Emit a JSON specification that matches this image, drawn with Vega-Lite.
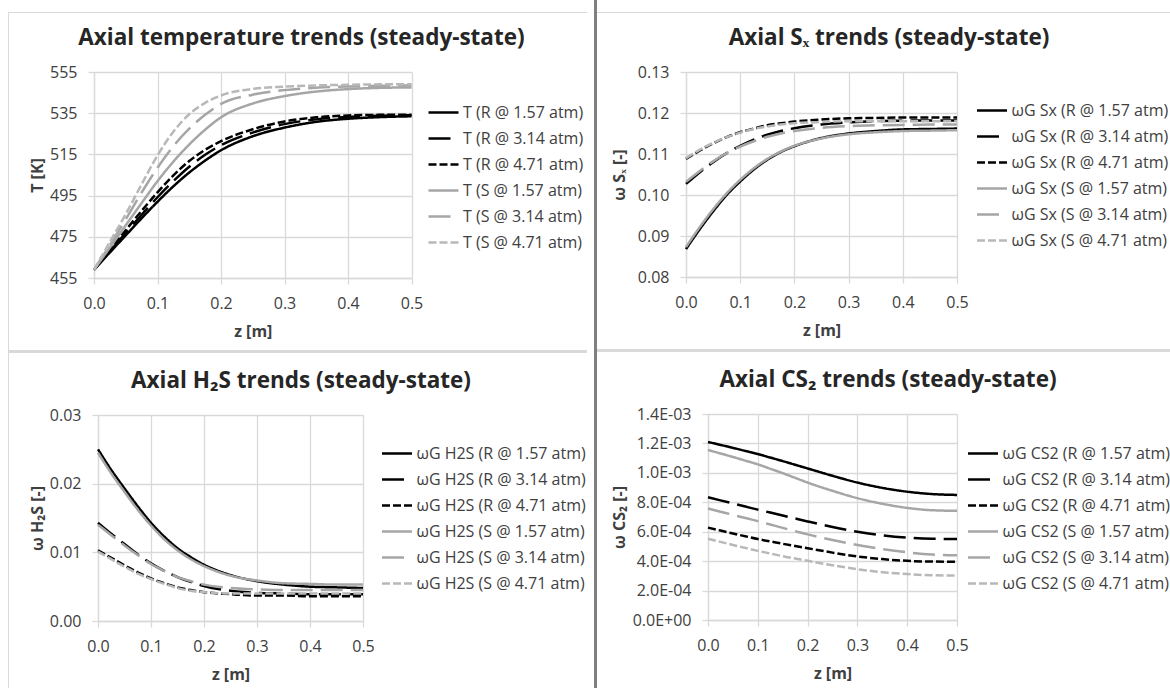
{
"$schema": "https://vega.github.io/schema/vega-lite/v6.json",
"padding": {"left": 8, "top": 0, "right": 0, "bottom": 0},
"background": "white",
"config": {
 "font": "Open Sans",
 "view": {"stroke": null},
 "axis": {"gridColor": "#d9d9d9", "gridWidth": 1.3, "domainColor": "#d9d9d9", "domainWidth": 1.3, "tickColor": "#d9d9d9", "tickWidth": 1.3, "tickSize": 6, "labelPadding": 11, "labelFont": "Open Sans", "labelFontSize": 16, "labelColor": "#404040", "labelOverlap": false, "titleFont": "Open Sans", "titleFontSize": 16, "titleFontWeight": "bold", "titleColor": "#404040"},
 "axisX": {"labelFlush": false, "titlePadding": 12},
 "title": {"font": "Open Sans", "fontSize": 22.5, "fontWeight": "bold", "color": "#262626", "anchor": "middle", "offset": 14.5},
 "legend": {"labelFont": "Open Sans", "labelFontSize": 16, "labelColor": "#404040"},
 "concat": {"spacing": 0}
},
"data": {"values": [
{"s":"R @ 1.57 atm","z":0,"T":459,"Sx":0.0868,"H2S":0.025,"CS2":0.00121},
{"s":"R @ 1.57 atm","z":0.025,"T":467.4,"Sx":0.0916,"H2S":0.022,"CS2":0.00119},
{"s":"R @ 1.57 atm","z":0.05,"T":475.7,"Sx":0.096,"H2S":0.0193,"CS2":0.00117},
{"s":"R @ 1.57 atm","z":0.075,"T":484,"Sx":0.1,"H2S":0.0167,"CS2":0.001149},
{"s":"R @ 1.57 atm","z":0.1,"T":492,"Sx":0.1033,"H2S":0.0143,"CS2":0.001128},
{"s":"R @ 1.57 atm","z":0.125,"T":499.5,"Sx":0.1062,"H2S":0.0123,"CS2":0.001104},
{"s":"R @ 1.57 atm","z":0.15,"T":506.2,"Sx":0.1086,"H2S":0.0106,"CS2":0.00108},
{"s":"R @ 1.57 atm","z":0.175,"T":512,"Sx":0.1105,"H2S":0.0093,"CS2":0.001055},
{"s":"R @ 1.57 atm","z":0.2,"T":517,"Sx":0.1119,"H2S":0.0082,"CS2":0.00103},
{"s":"R @ 1.57 atm","z":0.25,"T":523.8,"Sx":0.1139,"H2S":0.0067,"CS2":0.00098},
{"s":"R @ 1.57 atm","z":0.3,"T":528,"Sx":0.115,"H2S":0.0058,"CS2":0.000934},
{"s":"R @ 1.57 atm","z":0.35,"T":530.8,"Sx":0.1156,"H2S":0.0053,"CS2":0.000898},
{"s":"R @ 1.57 atm","z":0.4,"T":532.3,"Sx":0.116,"H2S":0.005,"CS2":0.000872},
{"s":"R @ 1.57 atm","z":0.45,"T":533.1,"Sx":0.1161,"H2S":0.0049,"CS2":0.000856},
{"s":"R @ 1.57 atm","z":0.5,"T":533.5,"Sx":0.1162,"H2S":0.0048,"CS2":0.00085},
{"s":"R @ 3.14 atm","z":0,"T":459,"Sx":0.1027,"H2S":0.0143,"CS2":0.000834},
{"s":"R @ 3.14 atm","z":0.025,"T":468,"Sx":0.1055,"H2S":0.0127,"CS2":0.000813},
{"s":"R @ 3.14 atm","z":0.05,"T":476.9,"Sx":0.108,"H2S":0.0112,"CS2":0.000792},
{"s":"R @ 3.14 atm","z":0.075,"T":485.7,"Sx":0.1102,"H2S":0.0097,"CS2":0.000771},
{"s":"R @ 3.14 atm","z":0.1,"T":494.2,"Sx":0.112,"H2S":0.0084,"CS2":0.00075},
{"s":"R @ 3.14 atm","z":0.125,"T":502,"Sx":0.1135,"H2S":0.0073,"CS2":0.00073},
{"s":"R @ 3.14 atm","z":0.15,"T":509,"Sx":0.1147,"H2S":0.0064,"CS2":0.00071},
{"s":"R @ 3.14 atm","z":0.175,"T":514.8,"Sx":0.1156,"H2S":0.0057,"CS2":0.00069},
{"s":"R @ 3.14 atm","z":0.2,"T":519.5,"Sx":0.1163,"H2S":0.0051,"CS2":0.00067},
{"s":"R @ 3.14 atm","z":0.25,"T":525.6,"Sx":0.1172,"H2S":0.0044,"CS2":0.000632},
{"s":"R @ 3.14 atm","z":0.3,"T":529.7,"Sx":0.1177,"H2S":0.0041,"CS2":0.0006},
{"s":"R @ 3.14 atm","z":0.35,"T":532,"Sx":0.118,"H2S":0.004,"CS2":0.000576},
{"s":"R @ 3.14 atm","z":0.4,"T":533.2,"Sx":0.1181,"H2S":0.0039,"CS2":0.00056},
{"s":"R @ 3.14 atm","z":0.45,"T":533.8,"Sx":0.1182,"H2S":0.0039,"CS2":0.000552},
{"s":"R @ 3.14 atm","z":0.5,"T":534,"Sx":0.1182,"H2S":0.0039,"CS2":0.00055},
{"s":"R @ 4.71 atm","z":0,"T":459,"Sx":0.1088,"H2S":0.0103,"CS2":0.000628},
{"s":"R @ 4.71 atm","z":0.025,"T":468.6,"Sx":0.1108,"H2S":0.0092,"CS2":0.000608},
{"s":"R @ 4.71 atm","z":0.05,"T":478.2,"Sx":0.1126,"H2S":0.0081,"CS2":0.000588},
{"s":"R @ 4.71 atm","z":0.075,"T":487.6,"Sx":0.1141,"H2S":0.0071,"CS2":0.000569},
{"s":"R @ 4.71 atm","z":0.1,"T":496.6,"Sx":0.1153,"H2S":0.0062,"CS2":0.00055},
{"s":"R @ 4.71 atm","z":0.125,"T":504.8,"Sx":0.1162,"H2S":0.0055,"CS2":0.000534},
{"s":"R @ 4.71 atm","z":0.15,"T":511.8,"Sx":0.117,"H2S":0.0049,"CS2":0.000518},
{"s":"R @ 4.71 atm","z":0.175,"T":517.2,"Sx":0.1175,"H2S":0.0045,"CS2":0.000503},
{"s":"R @ 4.71 atm","z":0.2,"T":521.4,"Sx":0.1179,"H2S":0.0042,"CS2":0.000488},
{"s":"R @ 4.71 atm","z":0.25,"T":527.2,"Sx":0.1184,"H2S":0.0039,"CS2":0.000458},
{"s":"R @ 4.71 atm","z":0.3,"T":531,"Sx":0.1187,"H2S":0.0037,"CS2":0.000432},
{"s":"R @ 4.71 atm","z":0.35,"T":533,"Sx":0.1188,"H2S":0.0037,"CS2":0.000414},
{"s":"R @ 4.71 atm","z":0.4,"T":533.9,"Sx":0.1189,"H2S":0.0036,"CS2":0.000402},
{"s":"R @ 4.71 atm","z":0.45,"T":534.2,"Sx":0.1189,"H2S":0.0036,"CS2":0.000397},
{"s":"R @ 4.71 atm","z":0.5,"T":534.3,"Sx":0.1189,"H2S":0.0036,"CS2":0.000396},
{"s":"S @ 1.57 atm","z":0,"T":459,"Sx":0.0873,"H2S":0.0245,"CS2":0.001155},
{"s":"S @ 1.57 atm","z":0.025,"T":469.8,"Sx":0.0921,"H2S":0.0215,"CS2":0.001132},
{"s":"S @ 1.57 atm","z":0.05,"T":480.6,"Sx":0.0965,"H2S":0.0188,"CS2":0.001108},
{"s":"S @ 1.57 atm","z":0.075,"T":491.4,"Sx":0.1004,"H2S":0.0162,"CS2":0.001083},
{"s":"S @ 1.57 atm","z":0.1,"T":502,"Sx":0.1037,"H2S":0.0139,"CS2":0.001058},
{"s":"S @ 1.57 atm","z":0.125,"T":511.5,"Sx":0.1065,"H2S":0.0119,"CS2":0.001028},
{"s":"S @ 1.57 atm","z":0.15,"T":519.8,"Sx":0.1088,"H2S":0.0103,"CS2":0.000998},
{"s":"S @ 1.57 atm","z":0.175,"T":527,"Sx":0.1106,"H2S":0.009,"CS2":0.000966},
{"s":"S @ 1.57 atm","z":0.2,"T":533,"Sx":0.112,"H2S":0.008,"CS2":0.000934},
{"s":"S @ 1.57 atm","z":0.25,"T":539.7,"Sx":0.1138,"H2S":0.0066,"CS2":0.000878},
{"s":"S @ 1.57 atm","z":0.3,"T":543.3,"Sx":0.1148,"H2S":0.0059,"CS2":0.000828},
{"s":"S @ 1.57 atm","z":0.35,"T":545.5,"Sx":0.1153,"H2S":0.0055,"CS2":0.00079},
{"s":"S @ 1.57 atm","z":0.4,"T":546.7,"Sx":0.1156,"H2S":0.0054,"CS2":0.000762},
{"s":"S @ 1.57 atm","z":0.45,"T":547.3,"Sx":0.1157,"H2S":0.0053,"CS2":0.000746},
{"s":"S @ 1.57 atm","z":0.5,"T":547.5,"Sx":0.1158,"H2S":0.0053,"CS2":0.000742},
{"s":"S @ 3.14 atm","z":0,"T":459,"Sx":0.1032,"H2S":0.014,"CS2":0.000758},
{"s":"S @ 3.14 atm","z":0.025,"T":471,"Sx":0.1058,"H2S":0.0125,"CS2":0.000736},
{"s":"S @ 3.14 atm","z":0.05,"T":483.5,"Sx":0.1082,"H2S":0.011,"CS2":0.000715},
{"s":"S @ 3.14 atm","z":0.075,"T":496.5,"Sx":0.1102,"H2S":0.0096,"CS2":0.000693},
{"s":"S @ 3.14 atm","z":0.1,"T":508.5,"Sx":0.1118,"H2S":0.0083,"CS2":0.000672},
{"s":"S @ 3.14 atm","z":0.125,"T":519,"Sx":0.1131,"H2S":0.0073,"CS2":0.000649},
{"s":"S @ 3.14 atm","z":0.15,"T":527.5,"Sx":0.1142,"H2S":0.0064,"CS2":0.000626},
{"s":"S @ 3.14 atm","z":0.175,"T":534.2,"Sx":0.115,"H2S":0.0058,"CS2":0.000604},
{"s":"S @ 3.14 atm","z":0.2,"T":539.5,"Sx":0.1156,"H2S":0.0053,"CS2":0.000582},
{"s":"S @ 3.14 atm","z":0.25,"T":544,"Sx":0.1164,"H2S":0.0048,"CS2":0.000544},
{"s":"S @ 3.14 atm","z":0.3,"T":546.2,"Sx":0.1168,"H2S":0.0046,"CS2":0.00051},
{"s":"S @ 3.14 atm","z":0.35,"T":547.4,"Sx":0.117,"H2S":0.0045,"CS2":0.000482},
{"s":"S @ 3.14 atm","z":0.4,"T":548,"Sx":0.1171,"H2S":0.0045,"CS2":0.00046},
{"s":"S @ 3.14 atm","z":0.45,"T":548.3,"Sx":0.1172,"H2S":0.0045,"CS2":0.000445},
{"s":"S @ 3.14 atm","z":0.5,"T":548.5,"Sx":0.1172,"H2S":0.0045,"CS2":0.00044},
{"s":"S @ 4.71 atm","z":0,"T":459,"Sx":0.109,"H2S":0.0101,"CS2":0.000552},
{"s":"S @ 4.71 atm","z":0.025,"T":472.5,"Sx":0.111,"H2S":0.009,"CS2":0.000531},
{"s":"S @ 4.71 atm","z":0.05,"T":486,"Sx":0.1127,"H2S":0.0079,"CS2":0.00051},
{"s":"S @ 4.71 atm","z":0.075,"T":500.5,"Sx":0.1141,"H2S":0.0069,"CS2":0.00049},
{"s":"S @ 4.71 atm","z":0.1,"T":514.5,"Sx":0.1152,"H2S":0.0061,"CS2":0.00047},
{"s":"S @ 4.71 atm","z":0.125,"T":526,"Sx":0.1161,"H2S":0.0054,"CS2":0.000452},
{"s":"S @ 4.71 atm","z":0.15,"T":534.5,"Sx":0.1167,"H2S":0.0048,"CS2":0.000434},
{"s":"S @ 4.71 atm","z":0.175,"T":540,"Sx":0.1172,"H2S":0.0044,"CS2":0.000418},
{"s":"S @ 4.71 atm","z":0.2,"T":543.6,"Sx":0.1175,"H2S":0.0042,"CS2":0.000402},
{"s":"S @ 4.71 atm","z":0.25,"T":546.8,"Sx":0.1178,"H2S":0.004,"CS2":0.000372},
{"s":"S @ 4.71 atm","z":0.3,"T":547.9,"Sx":0.118,"H2S":0.004,"CS2":0.000345},
{"s":"S @ 4.71 atm","z":0.35,"T":548.5,"Sx":0.118,"H2S":0.004,"CS2":0.000325},
{"s":"S @ 4.71 atm","z":0.4,"T":548.8,"Sx":0.118,"H2S":0.004,"CS2":0.000312},
{"s":"S @ 4.71 atm","z":0.45,"T":549,"Sx":0.118,"H2S":0.004,"CS2":0.000304},
{"s":"S @ 4.71 atm","z":0.5,"T":549.1,"Sx":0.118,"H2S":0.004,"CS2":0.000302}
]},
"resolve": {"scale": {"x": "independent", "y": "independent", "color": "independent", "strokeDash": "independent"}, "axis": {"x": "independent", "y": "independent"}, "legend": {"color": "independent", "strokeDash": "independent"}},
"spacing": 7,
"align": "none",
"concat": [
 {
  "concat": [
   {
    "concat": [
     {"width": 1, "height": 1, "data": {"values": [{}]}, "mark": {"type": "point", "size": 0, "opacity": 0}, "encoding": {}},
     {"width": 1, "height": 676, "data": {"values": [{}]}, "mark": {"type": "point", "size": 0, "opacity": 0}, "encoding": {}, "view": {"fill": "#d9d9d9", "stroke": null}}
    ],
    "columns": 1, "align": "none", "spacing": 11,
    "resolve": {"scale": {"x": "independent", "y": "independent"}, "axis": {"x": "independent", "y": "independent"}}
   },
   {
    "concat": [
     {
      "concat": [
       {
        "concat": [
         {"width": 1, "height": 1, "data": {"values": [{}]}, "mark": {"type": "point", "size": 0, "opacity": 0}, "encoding": {}},
         {"width": 578, "height": 1, "data": {"values": [{}]}, "mark": {"type": "point", "size": 0, "opacity": 0}, "encoding": {}, "view": {"fill": "#d9d9d9", "stroke": null}}
        ],
        "columns": 1, "align": "none", "spacing": 11,
        "resolve": {"scale": {"x": "independent", "y": "independent"}, "axis": {"x": "independent", "y": "independent"}}
       },
       {
        "concat": [
         {
          "concat": [
           {"width": 1, "height": 1, "data": {"values": [{}]}, "mark": {"type": "point", "size": 0, "opacity": 0}, "encoding": {}},
           {
            "width": 317.5, "height": 206,
            "title": {"text": "Axial temperature trends (steady-state)", "dx": 48.7},
            "mark": {"type": "line", "interpolate": "monotone", "strokeWidth": 2.5},
            "encoding": {
             "x": {"field": "z", "type": "quantitative", "title": "z [m]", "scale": {"domain": [0, 0.5], "nice": false}, "axis": {"values": [0, 0.1, 0.2, 0.3, 0.4, 0.5], "format": ".1f"}},
             "y": {"field": "T", "type": "quantitative", "title": "T [K]", "scale": {"domain": [455, 555], "nice": false, "zero": false}, "axis": {"values": [455, 475, 495, 515, 535, 555], "format": "d", "titlePadding": 4}},
             "color": {"field": "s", "type": "nominal", "scale": {"domain": ["R @ 1.57 atm", "R @ 3.14 atm", "R @ 4.71 atm", "S @ 1.57 atm", "S @ 3.14 atm", "S @ 4.71 atm"], "range": ["#000000", "#000000", "#000000", "#a6a6a6", "#a6a6a6", "#b8b8b8"]}, "legend": {"title": null, "orient": "none", "direction": "vertical", "legendX": 333, "legendY": 24, "symbolType": "stroke", "symbolSize": 900, "symbolStrokeWidth": 2.5, "rowPadding": 1, "labelOffset": 3, "labelLimit": 400, "labelExpr": "'T (' + datum.label + ')'"}},
             "strokeDash": {"field": "s", "type": "nominal", "scale": {"domain": ["R @ 1.57 atm", "R @ 3.14 atm", "R @ 4.71 atm", "S @ 1.57 atm", "S @ 3.14 atm", "S @ 4.71 atm"], "range": [[1, 0], [22, 8], [8, 3], [1, 0], [22, 8], [8, 3]]}, "legend": {"title": null, "orient": "none", "direction": "vertical", "legendX": 333, "legendY": 24, "symbolType": "stroke", "symbolSize": 900, "symbolStrokeWidth": 2.5, "rowPadding": 1, "labelOffset": 3, "labelLimit": 400, "labelExpr": "'T (' + datum.label + ')'"}}
            }
           }
          ],
          "spacing": 19, "align": "none",
          "resolve": {"scale": {"x": "independent", "y": "independent", "color": "independent", "strokeDash": "independent"}, "axis": {"x": "independent", "y": "independent"}, "legend": {"color": "independent", "strokeDash": "independent"}}
         },
         {"width": 578, "height": 3, "data": {"values": [{}]}, "mark": {"type": "point", "size": 0, "opacity": 0}, "encoding": {}, "view": {"fill": "#d9d9d9", "stroke": null}}
        ],
        "columns": 1, "align": "none", "spacing": 11,
        "resolve": {"scale": {"x": "independent", "y": "independent", "color": "independent", "strokeDash": "independent"}, "axis": {"x": "independent", "y": "independent"}, "legend": {"color": "independent", "strokeDash": "independent"}}
       }
      ],
      "columns": 1, "align": "none", "spacing": 14,
      "resolve": {"scale": {"x": "independent", "y": "independent", "color": "independent", "strokeDash": "independent"}, "axis": {"x": "independent", "y": "independent"}, "legend": {"color": "independent", "strokeDash": "independent"}}
     },
     {
      "concat": [
       {"width": 1, "height": 1, "data": {"values": [{}]}, "mark": {"type": "point", "size": 0, "opacity": 0}, "encoding": {}},
       {
        "width": 265, "height": 206,
        "title": {"text": "Axial H₂S trends (steady-state)", "dx": 70.5},
        "mark": {"type": "line", "interpolate": "monotone", "strokeWidth": 2.5},
        "encoding": {
         "x": {"field": "z", "type": "quantitative", "title": "z [m]", "scale": {"domain": [0, 0.5], "nice": false}, "axis": {"values": [0, 0.1, 0.2, 0.3, 0.4, 0.5], "format": ".1f"}},
         "y": {"field": "H2S", "type": "quantitative", "title": "ω H₂S [-]", "scale": {"domain": [0, 0.03], "nice": false}, "axis": {"values": [0, 0.01, 0.02, 0.03], "format": ".2f", "titlePadding": 4}},
         "color": {"field": "s", "type": "nominal", "scale": {"domain": ["R @ 1.57 atm", "R @ 3.14 atm", "R @ 4.71 atm", "S @ 1.57 atm", "S @ 3.14 atm", "S @ 4.71 atm"], "range": ["#000000", "#000000", "#000000", "#a6a6a6", "#a6a6a6", "#b8b8b8"]}, "legend": {"title": null, "orient": "none", "direction": "vertical", "legendX": 282.5, "legendY": 22, "symbolType": "stroke", "symbolSize": 900, "symbolStrokeWidth": 2.5, "rowPadding": 1, "labelOffset": 3, "labelLimit": 400, "labelExpr": "'ωG H2S (' + datum.label + ')'"}},
         "strokeDash": {"field": "s", "type": "nominal", "scale": {"domain": ["R @ 1.57 atm", "R @ 3.14 atm", "R @ 4.71 atm", "S @ 1.57 atm", "S @ 3.14 atm", "S @ 4.71 atm"], "range": [[1, 0], [22, 8], [8, 3], [1, 0], [22, 8], [8, 3]]}, "legend": {"title": null, "orient": "none", "direction": "vertical", "legendX": 282.5, "legendY": 22, "symbolType": "stroke", "symbolSize": 900, "symbolStrokeWidth": 2.5, "rowPadding": 1, "labelOffset": 3, "labelLimit": 400, "labelExpr": "'ωG H2S (' + datum.label + ')'"}}
        }
       }
      ],
      "spacing": 19, "align": "none",
      "resolve": {"scale": {"x": "independent", "y": "independent", "color": "independent", "strokeDash": "independent"}, "axis": {"x": "independent", "y": "independent"}, "legend": {"color": "independent", "strokeDash": "independent"}}
     }
    ],
    "columns": 1, "align": "none", "spacing": 17,
    "resolve": {"scale": {"x": "independent", "y": "independent", "color": "independent", "strokeDash": "independent"}, "axis": {"x": "independent", "y": "independent"}, "legend": {"color": "independent", "strokeDash": "independent"}}
   }
  ],
  "align": "none", "spacing": 0,
  "resolve": {"scale": {"x": "independent", "y": "independent", "color": "independent", "strokeDash": "independent"}, "axis": {"x": "independent", "y": "independent"}, "legend": {"color": "independent", "strokeDash": "independent"}}
 },
 {
  "concat": [
   {"width": 3, "height": 688, "data": {"values": [{}]}, "mark": {"type": "point", "size": 0, "opacity": 0}, "encoding": {}, "view": {"fill": "#7f7f7f", "stroke": null}},
   {
    "concat": [
     {
      "concat": [
       {
        "concat": [
         {"width": 1, "height": 1, "data": {"values": [{}]}, "mark": {"type": "point", "size": 0, "opacity": 0}, "encoding": {}},
         {"width": 573, "height": 1, "data": {"values": [{}]}, "mark": {"type": "point", "size": 0, "opacity": 0}, "encoding": {}, "view": {"fill": "#d9d9d9", "stroke": null}}
        ],
        "columns": 1, "align": "none", "spacing": 11,
        "resolve": {"scale": {"x": "independent", "y": "independent"}, "axis": {"x": "independent", "y": "independent"}}
       },
       {
        "concat": [
         {
          "concat": [
           {"width": 1, "height": 1, "data": {"values": [{}]}, "mark": {"type": "point", "size": 0, "opacity": 0}, "encoding": {}},
           {
            "width": 271, "height": 205,
            "title": {"text": "Axial Sₓ trends (steady-state)", "dx": 67.5},
            "mark": {"type": "line", "interpolate": "monotone", "strokeWidth": 2.5},
            "encoding": {
             "x": {"field": "z", "type": "quantitative", "title": "z [m]", "scale": {"domain": [0, 0.5], "nice": false}, "axis": {"values": [0, 0.1, 0.2, 0.3, 0.4, 0.5], "format": ".1f"}},
             "y": {"field": "Sx", "type": "quantitative", "title": "ω Sₓ [-]", "scale": {"domain": [0.08, 0.13], "nice": false, "zero": false}, "axis": {"values": [0.08, 0.09, 0.1, 0.11, 0.12, 0.13], "format": ".2f", "titlePadding": 10}},
             "color": {"field": "s", "type": "nominal", "scale": {"domain": ["R @ 1.57 atm", "R @ 3.14 atm", "R @ 4.71 atm", "S @ 1.57 atm", "S @ 3.14 atm", "S @ 4.71 atm"], "range": ["#000000", "#000000", "#000000", "#a6a6a6", "#a6a6a6", "#b8b8b8"]}, "legend": {"title": null, "orient": "none", "direction": "vertical", "legendX": 289.5, "legendY": 22, "symbolType": "stroke", "symbolSize": 900, "symbolStrokeWidth": 2.5, "rowPadding": 1, "labelOffset": 3, "labelLimit": 400, "labelExpr": "'ωG Sx (' + datum.label + ')'"}},
             "strokeDash": {"field": "s", "type": "nominal", "scale": {"domain": ["R @ 1.57 atm", "R @ 3.14 atm", "R @ 4.71 atm", "S @ 1.57 atm", "S @ 3.14 atm", "S @ 4.71 atm"], "range": [[1, 0], [22, 8], [8, 3], [1, 0], [22, 8], [8, 3]]}, "legend": {"title": null, "orient": "none", "direction": "vertical", "legendX": 289.5, "legendY": 22, "symbolType": "stroke", "symbolSize": 900, "symbolStrokeWidth": 2.5, "rowPadding": 1, "labelOffset": 3, "labelLimit": 400, "labelExpr": "'ωG Sx (' + datum.label + ')'"}}
            }
           }
          ],
          "spacing": 13, "align": "none",
          "resolve": {"scale": {"x": "independent", "y": "independent", "color": "independent", "strokeDash": "independent"}, "axis": {"x": "independent", "y": "independent"}, "legend": {"color": "independent", "strokeDash": "independent"}}
         },
         {"width": 573, "height": 3, "data": {"values": [{}]}, "mark": {"type": "point", "size": 0, "opacity": 0}, "encoding": {}, "view": {"fill": "#d9d9d9", "stroke": null}}
        ],
        "columns": 1, "align": "none", "spacing": 11,
        "resolve": {"scale": {"x": "independent", "y": "independent", "color": "independent", "strokeDash": "independent"}, "axis": {"x": "independent", "y": "independent"}, "legend": {"color": "independent", "strokeDash": "independent"}}
       }
      ],
      "columns": 1, "align": "none", "spacing": 14,
      "resolve": {"scale": {"x": "independent", "y": "independent", "color": "independent", "strokeDash": "independent"}, "axis": {"x": "independent", "y": "independent"}, "legend": {"color": "independent", "strokeDash": "independent"}}
     },
     {
      "concat": [
       {"width": 1, "height": 1, "data": {"values": [{}]}, "mark": {"type": "point", "size": 0, "opacity": 0}, "encoding": {}},
       {
        "width": 249, "height": 206,
        "title": {"text": "Axial CS₂ trends (steady-state)", "dx": 55.5},
        "mark": {"type": "line", "interpolate": "monotone", "strokeWidth": 2.5},
        "encoding": {
         "x": {"field": "z", "type": "quantitative", "title": "z [m]", "scale": {"domain": [0, 0.5], "nice": false}, "axis": {"values": [0, 0.1, 0.2, 0.3, 0.4, 0.5], "format": ".1f"}},
         "y": {"field": "CS2", "type": "quantitative", "title": "ω CS₂ [-]", "scale": {"domain": [0, 0.0014], "nice": false}, "axis": {"values": [0, 0.0002, 0.0004, 0.0006, 0.0008, 0.001, 0.0012, 0.0014], "labelExpr": "datum.value < 1e-9 ? '0.0E+00' : datum.value < 0.00099 ? format(datum.value * 10000, '.1f') + 'E-04' : format(datum.value * 1000, '.1f') + 'E-03'", "titlePadding": 5}},
         "color": {"field": "s", "type": "nominal", "scale": {"domain": ["R @ 1.57 atm", "R @ 3.14 atm", "R @ 4.71 atm", "S @ 1.57 atm", "S @ 3.14 atm", "S @ 4.71 atm"], "range": ["#000000", "#000000", "#000000", "#a6a6a6", "#a6a6a6", "#b8b8b8"]}, "legend": {"title": null, "orient": "none", "direction": "vertical", "legendX": 258.5, "legendY": 23, "symbolType": "stroke", "symbolSize": 900, "symbolStrokeWidth": 2.5, "rowPadding": 1, "labelOffset": 3, "labelLimit": 400, "labelExpr": "'ωG CS2 (' + datum.label + ')'"}},
         "strokeDash": {"field": "s", "type": "nominal", "scale": {"domain": ["R @ 1.57 atm", "R @ 3.14 atm", "R @ 4.71 atm", "S @ 1.57 atm", "S @ 3.14 atm", "S @ 4.71 atm"], "range": [[1, 0], [22, 8], [8, 3], [1, 0], [22, 8], [8, 3]]}, "legend": {"title": null, "orient": "none", "direction": "vertical", "legendX": 258.5, "legendY": 23, "symbolType": "stroke", "symbolSize": 900, "symbolStrokeWidth": 2.5, "rowPadding": 1, "labelOffset": 3, "labelLimit": 400, "labelExpr": "'ωG CS2 (' + datum.label + ')'"}}
        }
       }
      ],
      "spacing": 13, "align": "none",
      "resolve": {"scale": {"x": "independent", "y": "independent", "color": "independent", "strokeDash": "independent"}, "axis": {"x": "independent", "y": "independent"}, "legend": {"color": "independent", "strokeDash": "independent"}}
     }
    ],
    "columns": 1, "align": "none", "spacing": 17,
    "resolve": {"scale": {"x": "independent", "y": "independent", "color": "independent", "strokeDash": "independent"}, "axis": {"x": "independent", "y": "independent"}, "legend": {"color": "independent", "strokeDash": "independent"}}
   }
  ],
  "align": "none",
  "spacing": 0,
  "resolve": {"scale": {"x": "independent", "y": "independent", "color": "independent", "strokeDash": "independent"}, "axis": {"x": "independent", "y": "independent"}, "legend": {"color": "independent", "strokeDash": "independent"}}
 }
]
}
